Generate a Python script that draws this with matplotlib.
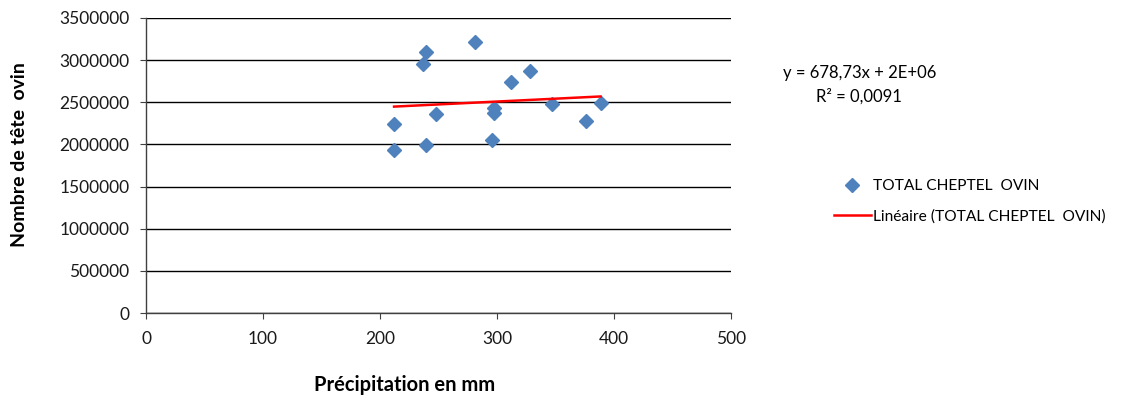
import numpy as np
import matplotlib
matplotlib.use("Agg")
import matplotlib.pyplot as plt

plt.rcParams['font.family'] = ['Lato', 'DejaVu Sans']

# Data
precip_mm = [212, 212, 239, 237, 239, 248, 281, 295.5, 297.5, 297.5, 312, 328.5, 347, 376, 388.5]
cheptel_ovin = [1934000, 2238000, 1993000, 2950000, 3100000, 2357000, 3218000, 2052000,
                2428000, 2369000, 2740000, 2874000, 2476000, 2278000, 2495000]
x_ticks = [0, 100, 200, 300, 400, 500]
y_ticks = [0, 500000, 1000000, 1500000, 2000000, 2500000, 3000000, 3500000]
series_name = "TOTAL CHEPTEL  OVIN"
trend_name = "Linéaire (TOTAL CHEPTEL  OVIN)"
equation_text = "y = 678,73x + 2E+06"
r2_text = "R² = 0,0091"

fig = plt.figure(figsize=(11.25, 4.0), dpi=100)
ax = fig.add_axes([146/1125, 1 - 313/400, 585/1125, 295/400])

x = np.array(precip_mm)
y = np.array(cheptel_ovin)
slope, intercept = np.polyfit(x, y, 1)
xl = np.array([x.min(), x.max()])

pts, = ax.plot(x, y, linestyle='none', marker='D', ms=6.8, color='#4F81BD',
               markeredgecolor='#4F81BD', zorder=3, label=series_name)
ln, = ax.plot(xl, slope * xl + intercept, color='#FF0000', lw=1.8, zorder=4, label=trend_name)

ax.set_xlim(0, 500)
ax.set_ylim(0, 3500000)
ax.set_xticks(x_ticks)
ax.set_yticks(y_ticks)
ax.set_xticklabels([str(v) for v in x_ticks])
ax.set_yticklabels([str(v) for v in y_ticks])
ax.yaxis.grid(True, color='black', lw=1.0)
ax.set_axisbelow(True)
for s in ['top', 'right']:
    ax.spines[s].set_visible(False)
for s in ['left', 'bottom']:
    ax.spines[s].set_color('#404040')
    ax.spines[s].set_linewidth(1.0)
ax.tick_params(axis='x', direction='out', length=4.5, color='#404040', labelsize=12.5, pad=8.5,
               labelcolor='#1a1a1a')
ax.tick_params(axis='y', direction='out', length=4.5, color='#404040', labelsize=12.5, pad=7.5,
               labelcolor='#1a1a1a')

fig.text(405/1125, 1 - 385/400, "Précipitation en mm", ha='center', va='center',
         fontsize=14.5, fontweight='bold')
fig.text(20/1125, 1 - 155/400, "Nombre de tête  ovin", ha='center', va='center',
         rotation=90, fontsize=14, fontweight='bold')

fig.text(783/1125, 1 - 73/400, equation_text, ha='left', va='center', fontsize=12)
fig.text(816/1125, 1 - 96/400, r2_text, ha='left', va='center', fontsize=12)

fig.legend(handles=[pts, ln], loc='upper left', bbox_to_anchor=(820/1125, 1 - 165/400),
           frameon=False, fontsize=11.2, handlelength=2.35, handletextpad=0.15,
           labelspacing=1.05, borderpad=0.4)

fig.savefig("out.png", dpi=100)
